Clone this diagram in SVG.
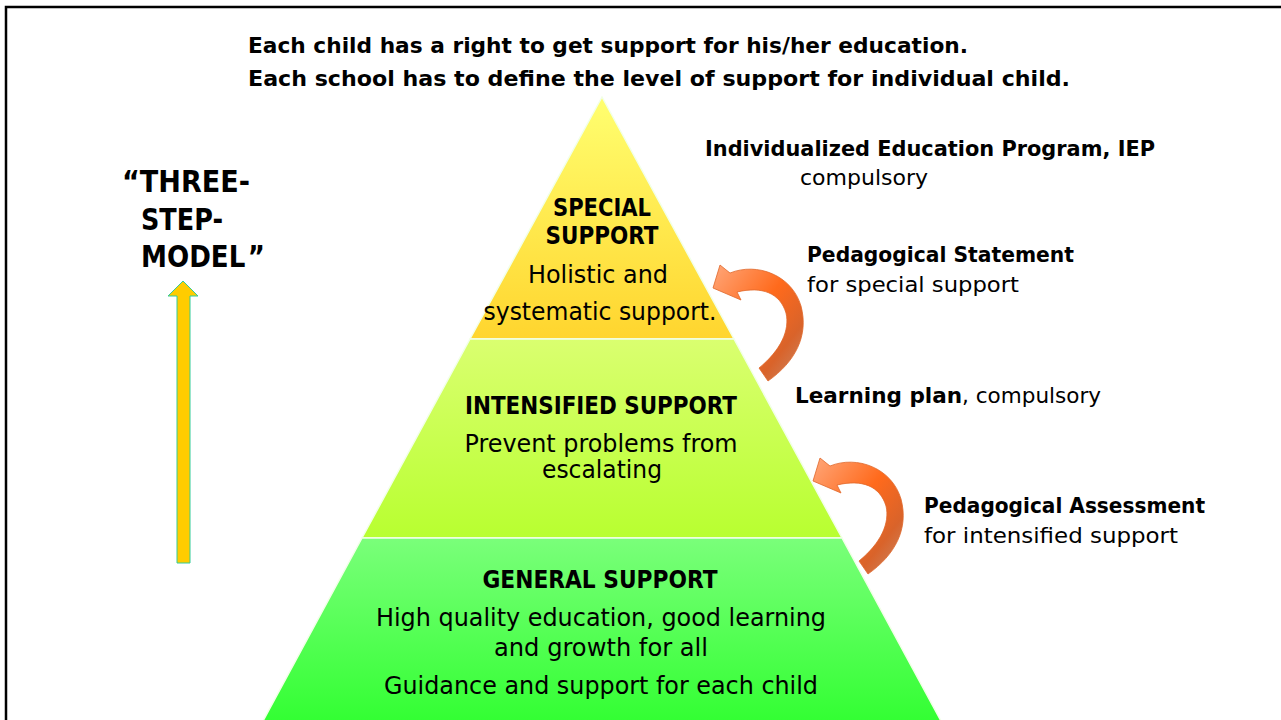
<svg xmlns="http://www.w3.org/2000/svg" width="1281" height="720" viewBox="0 0 1281 720">
  <defs>
    <linearGradient id="gTop" x1="0" y1="0" x2="0" y2="1">
      <stop offset="0" stop-color="#FFFF70"/>
      <stop offset="1" stop-color="#FFD52E"/>
    </linearGradient>
    <linearGradient id="gMid" x1="0" y1="0" x2="0" y2="1">
      <stop offset="0" stop-color="#DAFF70"/>
      <stop offset="1" stop-color="#B8FF30"/>
    </linearGradient>
    <linearGradient id="gBot" x1="0" y1="0" x2="0" y2="1">
      <stop offset="0" stop-color="#7AFF7A"/>
      <stop offset="1" stop-color="#33FF33"/>
    </linearGradient>
    <linearGradient id="gCurve" x1="0" y1="0" x2="1" y2="1">
      <stop offset="0" stop-color="#FFA77A"/>
      <stop offset="0.45" stop-color="#FF6A1C"/>
      <stop offset="0.75" stop-color="#D9632A"/>
      <stop offset="1" stop-color="#C88A6A"/>
    </linearGradient>
    <!-- curved arrow: swept-back head at upper left, tail cut at lower left -->
    <path id="curvedArrow" d="M713,288 L720,265 L730,273 C757,262 792,275 801,306 C809,336 795,362 768,381 L759,368 C781,350 790,330 786,313 C780,293 762,286 737,292 L741,300 Z"/>
  </defs>
  <style>
    .t { font-family: "DejaVu Sans", Verdana, sans-serif; fill: #000; }
    .b { font-weight: bold; }
    .c { text-anchor: middle; }
    .head { font-size: 22px; }
    .lbl { font-size: 21px; }
    .pyr { font-size: 24px; }
    .model { font-size: 30px; font-weight: bold; }
    .band { stroke: #F2FFE8; stroke-width: 1.5; }
    .curve { fill: url(#gCurve); stroke: #E0672A; stroke-width: 0.8; }
  </style>

  <rect width="1281" height="720" fill="#FFFFFF"/>

  <!-- frame -->
  <path d="M6,720 L6,7 L1281,7" fill="none" stroke="#000" stroke-width="2.5"/>

  <!-- heading -->
  <g id="heading">
    <text class="t b head" x="248" y="53" textLength="720" lengthAdjust="spacingAndGlyphs">Each child has a right to get support for his/her education.</text>
    <text class="t b head" x="248" y="86" textLength="822" lengthAdjust="spacingAndGlyphs">Each school has to define the level of support for individual child.</text>
  </g>

  <!-- model title and upward arrow -->
  <g id="model-title">
    <text class="t model" x="122" y="192" textLength="128" lengthAdjust="spacingAndGlyphs">“THREE-</text>
    <text class="t model" x="141" y="230" textLength="82" lengthAdjust="spacingAndGlyphs">STEP-</text>
    <text class="t model" transform="translate(141,267) scale(0.87,1)" x="0" y="0">MODEL<tspan dx="3">”</tspan></text>
  </g>
  <g id="up-arrow">
    <polygon points="177,563 177,296 168,296 183,281 198,296 190,296 190,563" fill="#FFCC00" stroke="#33CC99" stroke-width="1"/>
  </g>

  <!-- pyramid levels -->
  <g id="level-special">
    <polygon class="band" points="602,97 734,339 470,339" fill="url(#gTop)"/>
    <text class="t b pyr c" x="602" y="216" textLength="98" lengthAdjust="spacingAndGlyphs">SPECIAL</text>
    <text class="t b pyr c" x="602" y="244" textLength="113" lengthAdjust="spacingAndGlyphs">SUPPORT</text>
    <text class="t pyr c" x="598" y="283" textLength="140" lengthAdjust="spacingAndGlyphs">Holistic and</text>
    <text class="t pyr c" x="600" y="320" textLength="233" lengthAdjust="spacingAndGlyphs">systematic support.</text>
  </g>
  <g id="level-intensified">
    <polygon class="band" points="470,339 734,339 842,538 362,538" fill="url(#gMid)"/>
    <text class="t b pyr c" x="601" y="414" textLength="272" lengthAdjust="spacingAndGlyphs">INTENSIFIED SUPPORT</text>
    <text class="t pyr c" x="601" y="452" textLength="273" lengthAdjust="spacingAndGlyphs">Prevent problems from</text>
    <text class="t pyr c" x="602" y="478" textLength="120" lengthAdjust="spacingAndGlyphs">escalating</text>
  </g>
  <g id="level-general">
    <polygon class="band" points="362,538 842,538 941,721 263,721" fill="url(#gBot)"/>
    <text class="t b pyr c" x="600" y="588" textLength="235" lengthAdjust="spacingAndGlyphs">GENERAL SUPPORT</text>
    <text class="t pyr c" x="601" y="626" textLength="450" lengthAdjust="spacingAndGlyphs">High quality education, good learning</text>
    <text class="t pyr c" x="601" y="656" textLength="214" lengthAdjust="spacingAndGlyphs">and growth for all</text>
    <text class="t pyr c" x="601" y="694" textLength="434" lengthAdjust="spacingAndGlyphs">Guidance and support for each child</text>
  </g>

  <!-- documents linked to each level -->
  <g id="note-iep">
    <text class="t b lbl" x="705" y="156" textLength="450" lengthAdjust="spacingAndGlyphs">Individualized Education Program, IEP</text>
    <text class="t lbl" x="800" y="185" textLength="128" lengthAdjust="spacingAndGlyphs">compulsory</text>
  </g>
  <g id="note-statement">
    <text class="t b lbl" x="807" y="262" textLength="267" lengthAdjust="spacingAndGlyphs">Pedagogical Statement</text>
    <text class="t lbl" x="807" y="292" textLength="212" lengthAdjust="spacingAndGlyphs">for special support</text>
  </g>
  <g id="note-learning-plan">
    <text class="t lbl" x="795" y="403" textLength="306" lengthAdjust="spacingAndGlyphs"><tspan class="b">Learning plan</tspan>, compulsory</text>
  </g>
  <g id="note-assessment">
    <text class="t b lbl" x="924" y="513" textLength="281" lengthAdjust="spacingAndGlyphs">Pedagogical Assessment</text>
    <text class="t lbl" x="924" y="543" textLength="254" lengthAdjust="spacingAndGlyphs">for intensified support</text>
  </g>

  <!-- curved step-up arrows -->
  <g id="connectors">
    <use href="#curvedArrow" class="curve"/>
    <use href="#curvedArrow" class="curve" transform="translate(100,193)"/>
  </g>
</svg>
